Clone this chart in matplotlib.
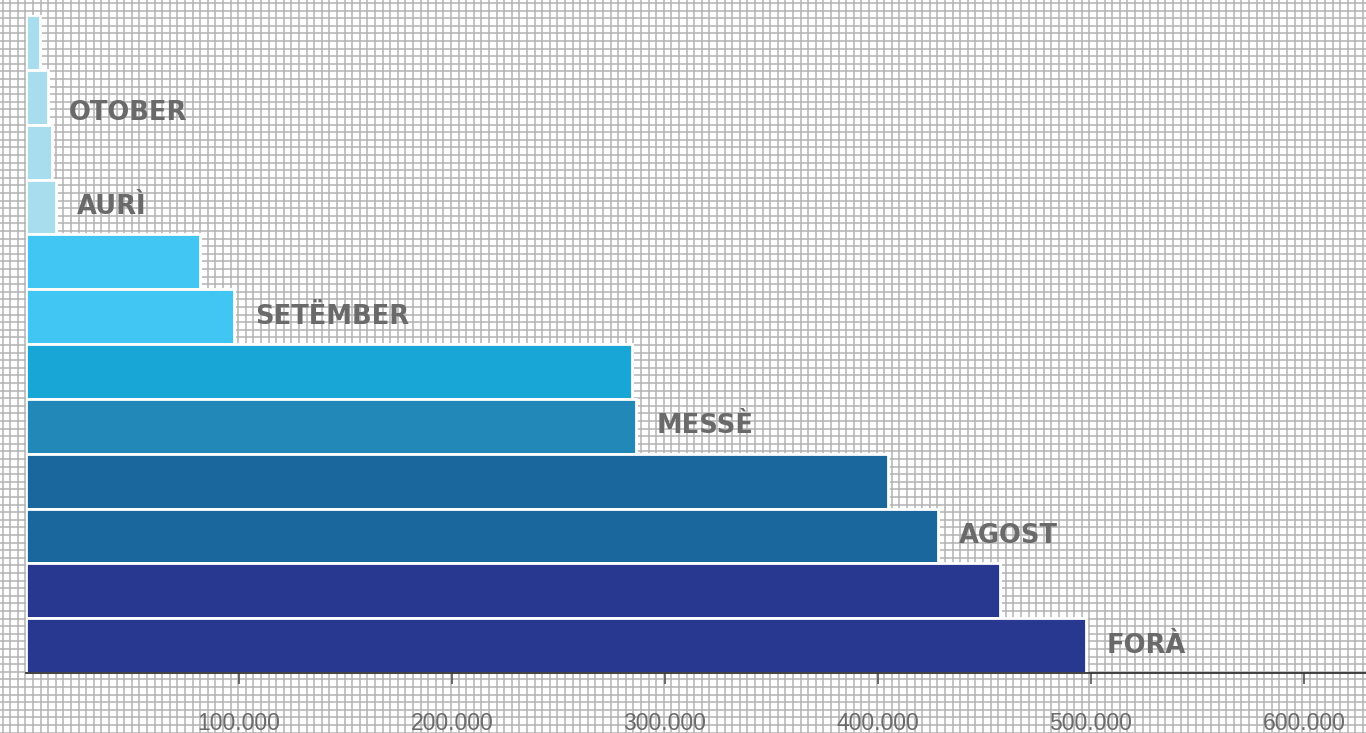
import numpy as np
import matplotlib
matplotlib.use("Agg")
import matplotlib.pyplot as plt
from matplotlib.ticker import FuncFormatter

# ---- data ----
values = [6600, 10300, 12200, 14000, 81700, 97700, 284500, 286400,
          404700, 428000, 457300, 497700]
colors = ["#A8DDEE", "#A8DDEE", "#A8DDEE", "#A8DDEE",
          "#41C5F2", "#41C5F2", "#18A6D6", "#2188B7",
          "#19679C", "#19679C", "#283891", "#283891"]
labels = {1: "OTOBER", 3: "AURÌ", 5: "SETËMBER", 7: "MESSÈ", 9: "AGOST", 11: "FORÀ"}
xticks = [100000, 200000, 300000, 400000, 500000, 600000]

W, H = 1366, 733
fig = plt.figure(figsize=(W / 100, H / 100), dpi=100)
fig.patch.set_facecolor("white")

# graph-paper background
bg = fig.add_axes([0, 0, 1, 1], zorder=-5)
bg.set_xlim(0, W)
bg.set_ylim(H, 0)
bg.axis("off")
pitch = 7.6
for x in np.arange(2.5, W, pitch):
    bg.axvline(x, color="#b3b3b3", lw=1.1, zorder=0)
for y in np.arange(3.0, H, pitch):
    bg.axhline(y, color="#b3b3b3", lw=1.1, zorder=0)

# main axes
left_px, right_px = 26, W
top_px, bottom_px = 15, 673
ax = fig.add_axes([left_px / W, (H - bottom_px) / H,
                   (right_px - left_px) / W, (bottom_px - top_px) / H])
ax.set_facecolor("none")
ypos = np.arange(len(values))
ax.barh(ypos, values, height=1.0, color=colors, edgecolor="white",
        linewidth=2, zorder=3)
ax.set_ylim(len(values) - 0.5, -0.5)
ax.set_xlim(0, (right_px - left_px) / 2.13 * 1000)

for s in ["top", "right", "left"]:
    ax.spines[s].set_visible(False)
ax.spines["bottom"].set_color("#333333")
ax.spines["bottom"].set_linewidth(1.3)
ax.spines["bottom"].set_zorder(4)
ax.set_yticks([])
ax.set_xticks(xticks)
ax.xaxis.set_major_formatter(FuncFormatter(lambda v, p: f"{int(v):,}".replace(",", ".")))
ax.tick_params(axis="x", direction="out", length=8, width=1.2, color="#555555",
               pad=20, labelsize=16.5, labelcolor="#6b6b6b")
for t in ax.get_xticklabels():
    t.set_family("Liberation Sans")

for i, name in labels.items():
    dy = -11 if name == "OTOBER" else 0
    ax.annotate(name, xy=(values[i], i), xytext=(15, dy), textcoords="offset points",
                ha="left", va="center", fontsize=18.5, fontweight="bold",
                color="#6a6a6a", family="DejaVu Sans", zorder=5)

fig.savefig("out.png", dpi=100)
